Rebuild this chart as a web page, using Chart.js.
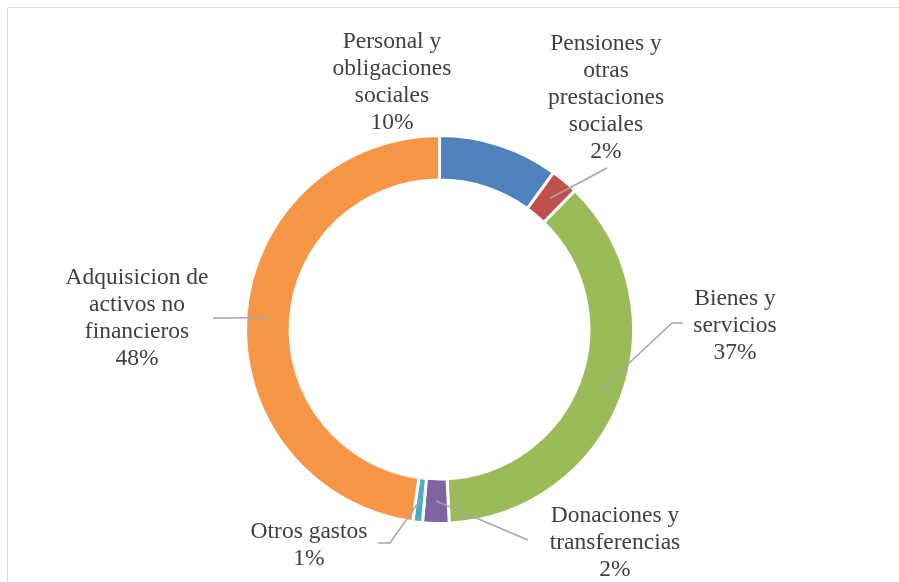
<!DOCTYPE html>
<html>
<head>
<meta charset="utf-8">
<script src="https://cdn.jsdelivr.net/npm/chart.js@4.4.1/dist/chart.umd.min.js"></script>
<style>
  html, body { margin: 0; padding: 0; background: #ffffff; }
  #wrap { position: relative; width: 899px; height: 582px; }
</style>
</head>
<body>
<div id="wrap"><canvas id="c" width="899" height="582"></canvas></div>
<script>
// ---- data ----
const categories = [
  ["Personal y", "obligaciones", "sociales"],
  ["Pensiones y", "otras", "prestaciones", "sociales"],
  ["Bienes y", "servicios"],
  ["Donaciones y", "transferencias"],
  ["Otros gastos"],
  ["Adquisicion de", "activos no", "financieros"]
];
const shares = [10.0, 2.3, 36.9, 2.2, 0.8, 47.8];
const sliceColors = ["#4F81BD", "#C0504D", "#9BBB59", "#8064A2", "#4BACC6", "#F79646"];

// ---- layout (label anchors: centre x, first line centre y; leader line path) ----
const labelLayout = [
  { x: 392, y: 42, leader: null },
  { x: 606, y: 44, leader: [[607, 168]] },
  { x: 735, y: 299, leader: [[672, 323], [683, 323]] },
  { x: 615, y: 516, leader: [[528, 540]] },
  { x: 309, y: 532, leader: [[390, 543], [378, 543]] },
  { x: 137, y: 278, leader: [[213, 318]] }
];
const LINE_H = 27;
const FONT = '23.5px "Liberation Serif", "Times New Roman", serif';

const total = shares.reduce((a, b) => a + b, 0);

const framePlugin = {
  id: 'frame',
  beforeDraw(chart) {
    const ctx = chart.ctx;
    ctx.save();
    ctx.strokeStyle = '#d9d9d9';
    ctx.lineWidth = 1;
    ctx.beginPath();
    ctx.moveTo(7.5, 582);
    ctx.lineTo(7.5, 7.5);
    ctx.lineTo(899, 7.5);
    ctx.stroke();
    ctx.restore();
  }
};

const labelPlugin = {
  id: 'outLabels',
  afterDraw(chart) {
    const ctx = chart.ctx;
    const meta = chart.getDatasetMeta(0);
    ctx.save();
    meta.data.forEach((arc, i) => {
      const lay = labelLayout[i];
      if (lay.leader) {
        const p = arc.tooltipPosition();
        ctx.strokeStyle = '#a6a6a6';
        ctx.lineWidth = 1.5;
        ctx.beginPath();
        ctx.moveTo(p.x, p.y);
        lay.leader.forEach(pt => ctx.lineTo(pt[0], pt[1]));
        ctx.stroke();
      }
      const lines = categories[i].concat([Math.round(shares[i] / total * 100) + '%']);
      ctx.fillStyle = '#404040';
      ctx.font = FONT;
      ctx.textAlign = 'center';
      ctx.textBaseline = 'middle';
      lines.forEach((t, k) => ctx.fillText(t, lay.x, lay.y + k * LINE_H));
    });
    ctx.restore();
  }
};

new Chart(document.getElementById('c'), {
  type: 'doughnut',
  data: {
    labels: categories,
    datasets: [{
      data: shares,
      backgroundColor: sliceColors,
      borderColor: '#ffffff',
      borderWidth: 3,
      hoverOffset: 0
    }]
  },
  options: {
    responsive: false,
    animation: false,
    cutout: '77%',
    layout: { padding: { top: 134, bottom: 57, left: 244, right: 264 } },
    plugins: {
      legend: { display: false },
      tooltip: { enabled: false }
    }
  },
  plugins: [framePlugin, labelPlugin]
});
</script>
</body>
</html>
